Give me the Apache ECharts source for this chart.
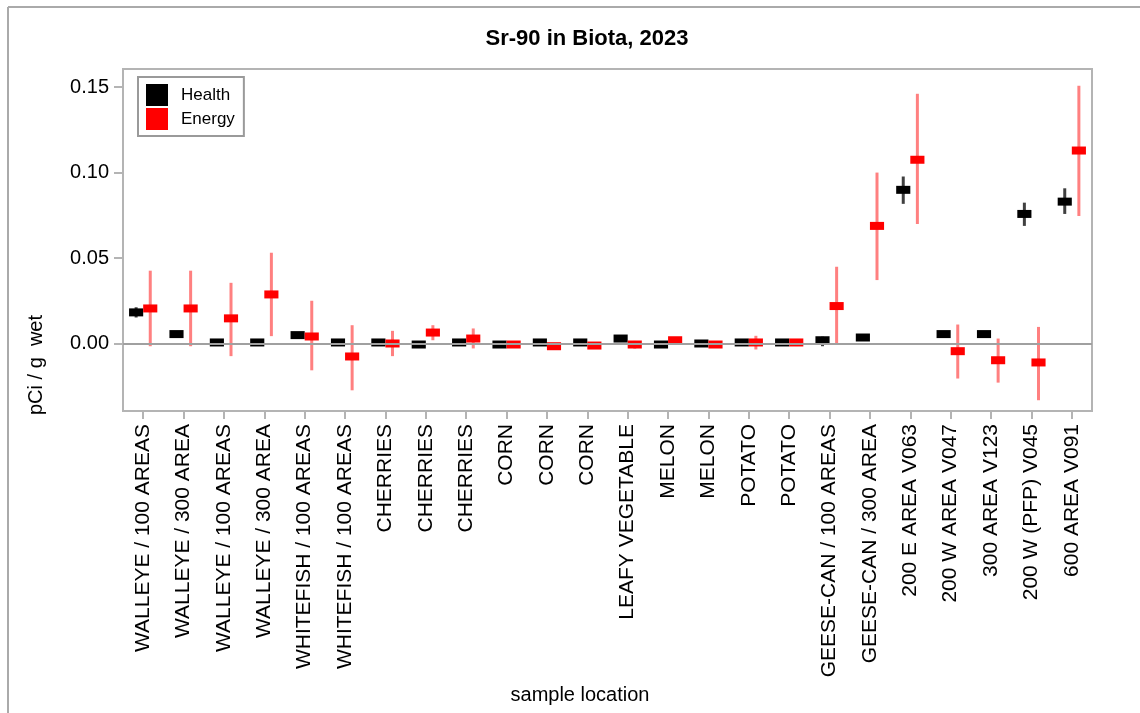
<!DOCTYPE html>
<html>
<head>
<meta charset="utf-8">
<script src="https://cdn.jsdelivr.net/npm/echarts@6/dist/echarts.min.js"></script>
<style>
html,body{margin:0;padding:0;background:#fff;}
#chart{width:1140px;height:713px;}
</style>
</head>
<body>
<div id="chart"></div>
<script>
const categories = [
  'WALLEYE / 100 AREAS','WALLEYE / 300 AREA','WALLEYE / 100 AREAS','WALLEYE / 300 AREA',
  'WHITEFISH / 100 AREAS','WHITEFISH / 100 AREAS','CHERRIES','CHERRIES','CHERRIES',
  'CORN','CORN','CORN','LEAFY VEGETABLE','MELON','MELON','POTATO','POTATO',
  'GEESE-CAN / 100 AREAS','GEESE-CAN / 300 AREA','200 E AREA V063','200 W AREA V047',
  '300 AREA V123','200 W (PFP) V045','600 AREA V091'
];
const health   = [0.0182,0.0055,0.0006,0.0006,0.0049,0.0006,0.0006,-0.0006,0.0006,-0.0006,0.0006,0.0006,0.0029,-0.0006,0.0000,0.0006,0.0006,0.0019,0.0035,0.0899,0.0055,0.0055,0.0758,0.0830];
const healthLo = [0.0152,0.0037,-0.0004,-0.0004,0.0034,-0.0004,-0.0004,-0.0016,-0.0004,-0.0016,-0.0004,-0.0004,0.0019,-0.0016,-0.0010,-0.0004,-0.0004,-0.0016,0.0025,0.0817,0.0035,0.0035,0.0688,0.0758];
const healthHi = [0.0212,0.0070,0.0016,0.0016,0.0064,0.0016,0.0016,0.0004,0.0016,0.0004,0.0016,0.0016,0.0039,0.0004,0.0010,0.0016,0.0016,0.0040,0.0045,0.0977,0.0070,0.0070,0.0824,0.0908];
const energy   = [0.0205,0.0205,0.0147,0.0287,0.0041,-0.0076,0.0000,0.0064,0.0029,-0.0006,-0.0016,-0.0012,-0.0006,0.0019,-0.0006,0.0006,0.0006,0.0219,0.0688,0.1075,-0.0045,-0.0098,-0.0111,0.1129];
const energyLo = [-0.0016,-0.0016,-0.0074,0.0043,-0.0157,-0.0274,-0.0074,0.0019,-0.0029,-0.0015,-0.0025,-0.0022,-0.0030,0.0010,-0.0015,-0.0035,-0.0015,0.0000,0.0371,0.0699,-0.0205,-0.0229,-0.0332,0.0746];
const energyHi = [0.0426,0.0426,0.0355,0.0531,0.0250,0.0107,0.0074,0.0107,0.0088,0.0003,-0.0007,-0.0002,0.0015,0.0028,0.0003,0.0045,0.0025,0.0449,0.1000,0.1461,0.0111,0.0029,0.0097,0.1508];
const yTicks = [0, 0.05, 0.10, 0.15];

const FONT = "'Liberation Sans', Arial, sans-serif";

function errSeries(name, vals, lo, hi, color, barColor, side) {
  return {
    type: 'custom',
    name: name,
    data: vals.map((v, i) => [i, v, lo[i], hi[i]]),
    encode: { x: 0, y: 1 },
    itemStyle: { color: color },
    z: side < 0 ? 3 : 4,
    renderItem: function (params, api) {
      const i = api.value(0);
      const c = api.coord([i, api.value(1)]);
      const l = api.coord([i, api.value(2)]);
      const h = api.coord([i, api.value(3)]);
      const bw = api.size([1, 0])[0];
      const x = c[0] + side * bw * 0.175;
      const w = bw * 0.35, ht = 8;
      return {
        type: 'group',
        children: [
          { type: 'line', shape: { x1: x, y1: l[1], x2: x, y2: h[1] },
            style: { stroke: barColor, lineWidth: 3 } },
          { type: 'rect', shape: { x: x - w / 2, y: c[1] - ht / 2, width: w, height: ht },
            style: { fill: color } }
        ]
      };
    }
  };
}

const chart = echarts.init(document.getElementById('chart'));
chart.setOption({
  backgroundColor: '#fff',
  animation: false,
  title: {
    text: 'Sr-90 in Biota, 2023',
    left: 582, top: 23, textAlign: 'center',
    textStyle: { fontFamily: FONT, fontSize: 22, fontWeight: 'bold', color: '#000' }
  },
  legend: {
    orient: 'vertical',
    left: 138, top: 77,
    padding: [7, 9, 6, 8],
    itemWidth: 22, itemHeight: 22, itemGap: 2,
    borderColor: '#9a9a9a', borderWidth: 2,
    backgroundColor: '#fff',
    icon: 'rect',
    data: ['Health', 'Energy'],
    textStyle: { fontFamily: FONT, fontSize: 17, color: '#000', padding: [0, 0, 0, 8] }
  },
  grid: {
    left: 123, right: 48, top: 69, bottom: 302,
    show: true, borderColor: '#b4b4b4', borderWidth: 2, backgroundColor: '#fff'
  },
  xAxis: {
    type: 'category',
    data: categories,
    boundaryGap: true,
    axisLine: { show: true, onZero: false, lineStyle: { color: '#b4b4b4', width: 2 } },
    axisTick: { show: true, alignWithLabel: true, length: 8, lineStyle: { color: '#b4b4b4', width: 2 } },
    axisLabel: { rotate: 90, interval: 0, margin: 13, fontFamily: FONT, fontSize: 21, color: '#000' },
    splitLine: { show: false }
  },
  yAxis: {
    type: 'value',
    min: -0.0395, max: 0.1606,
    axisLine: { show: true, onZero: false, lineStyle: { color: '#b4b4b4', width: 2 } },
    axisTick: { show: true, length: 9, customValues: yTicks, lineStyle: { color: '#b4b4b4', width: 2 } },
    axisLabel: { customValues: yTicks, margin: 14, fontFamily: FONT, fontSize: 20, color: '#000',
      formatter: v => v.toFixed(2) },
    splitLine: { show: false }
  },
  graphic: [
    { type: 'line', shape: { x1: 8, y1: 7, x2: 1140, y2: 7 }, style: { stroke: '#aaaaaa', lineWidth: 2 }, silent: true },
    { type: 'line', shape: { x1: 8, y1: 7, x2: 8, y2: 713 }, style: { stroke: '#aaaaaa', lineWidth: 2 }, silent: true },
    { type: 'text', x: 36, y: 365, rotation: Math.PI / 2,
      style: { text: 'pCi / g  wet', font: '20px ' + FONT, fill: '#000', align: 'center', verticalAlign: 'middle' } },
    { type: 'text', x: 580, y: 695,
      style: { text: 'sample location', font: '20px ' + FONT, fill: '#000', align: 'center', verticalAlign: 'middle' } }
  ],
  series: [
    Object.assign(errSeries('Health', health, healthLo, healthHi, '#000000', '#404040', -1), {
      markLine: {
        silent: true, symbol: 'none', label: { show: false },
        lineStyle: { color: '#a0a0a0', width: 2, type: 'solid' },
        data: [{ yAxis: 0 }]
      }
    }),
    errSeries('Energy', energy, energyLo, energyHi, '#ff0000', '#ff8080', 1)
  ]
});
</script>
</body>
</html>
